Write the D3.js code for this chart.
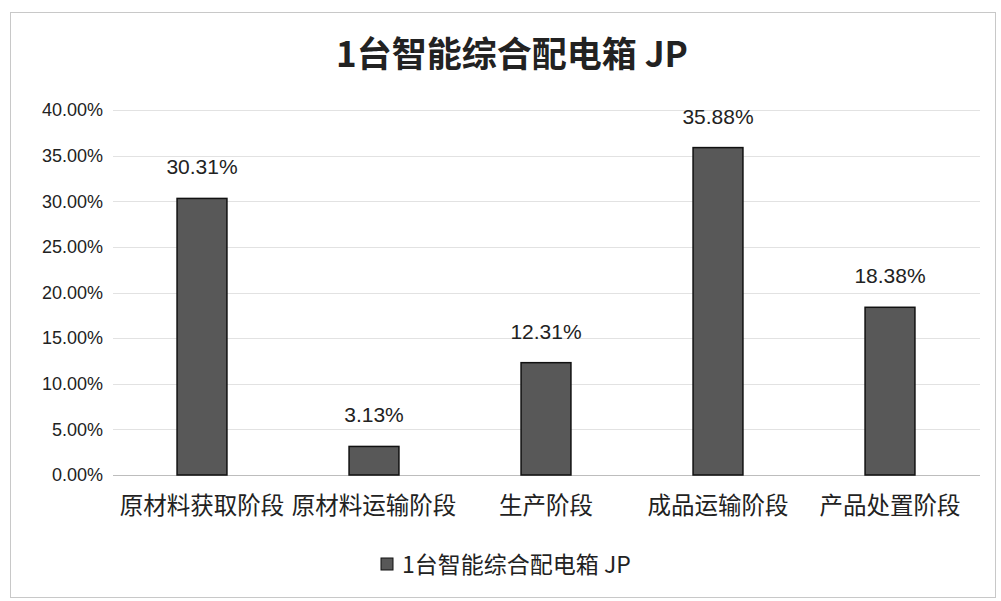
<!DOCTYPE html>
<html>
<head>
<meta charset="utf-8">
<script src="https://cdn.jsdelivr.net/npm/d3@7/dist/d3.min.js"></script>
<style>
	body { margin: 0; background: #fff; }
	text { fill: #222; }
</style>
</head>
<body>
<svg id="svg"></svg>
<script>
const W = 1001, H = 601
const cjk = '"Noto Sans CJK SC", "Noto Sans", sans-serif'
const latin = '"Liberation Sans", Arial, sans-serif'

// data
const title = '1台智能综合配电箱 JP'
const categories = ['原材料获取阶段', '原材料运输阶段', '生产阶段', '成品运输阶段', '产品处置阶段']
const values = [0.3031, 0.0313, 0.1231, 0.3588, 0.1838]
const yTicks = [0, 0.05, 0.10, 0.15, 0.20, 0.25, 0.30, 0.35, 0.40]

const plot = {left: 116, right: 976, top: 110, bottom: 475}

const svg = d3.select('#svg')
	.attr('width', W)
	.attr('height', H)

// chart frame
svg.append('rect')
	.attr('x', 10.5).attr('y', 12.5)
	.attr('width', 985).attr('height', 585)
	.attr('fill', '#fff')
	.attr('stroke', '#c8c8c8')

const x = d3.scaleBand()
	.domain(categories)
	.range([plot.left, plot.right])
	.paddingInner(0.71)
	.paddingOuter(0.355)

const y = d3.scaleLinear()
	.domain([0, 0.40])
	.range([plot.bottom, plot.top])

const fmt = d3.format('.2%')

// gridlines
svg.append('g')
	.selectAll('line')
	.data(yTicks)
	.join('line')
	.attr('x1', plot.left - 3)
	.attr('x2', plot.right + 4)
	.attr('y1', d => Math.round(y(d)) + 0.5)
	.attr('y2', d => Math.round(y(d)) + 0.5)
	.attr('stroke', d => d === 0 ? '#bdbdbd' : '#e2e2e2')
	.attr('stroke-width', 1.2)

// y axis labels
const yAxis = svg.append('g')
	.attr('transform', `translate(${plot.left - 13},0)`)
	.call(d3.axisLeft(y).tickValues(yTicks).tickFormat(fmt).tickSize(0).tickPadding(0))
yAxis.select('.domain').remove()
yAxis.selectAll('text')
	.attr('font-family', latin)
	.attr('font-size', 18)
	.attr('fill', '#222')

// bars
svg.append('g')
	.selectAll('rect')
	.data(values)
	.join('rect')
	.attr('x', (d, i) => x(categories[i]))
	.attr('y', d => y(d))
	.attr('width', x.bandwidth())
	.attr('height', d => y(0) - y(d))
	.attr('fill', '#585858')
	.attr('stroke', '#111')
	.attr('stroke-width', 1.5)

// data labels
svg.append('g')
	.selectAll('text')
	.data(values)
	.join('text')
	.attr('x', (d, i) => x(categories[i]) + x.bandwidth() / 2)
	.attr('y', d => y(d) - 24)
	.attr('text-anchor', 'middle')
	.attr('font-family', latin)
	.attr('font-size', 21)
	.text(d => fmt(d))

// category labels
const xAxis = svg.append('g')
	.attr('transform', `translate(0,${plot.bottom + 22})`)
	.call(d3.axisBottom(x).tickSize(0).tickPadding(0))
xAxis.select('.domain').remove()
xAxis.selectAll('text')
	.attr('font-family', cjk)
	.attr('font-size', 23.5)
	.attr('fill', '#222')

// title
svg.append('text')
	.attr('x', 512)
	.attr('y', 67)
	.attr('text-anchor', 'middle')
	.attr('font-family', cjk)
	.attr('font-size', 35)
	.attr('font-weight', 'bold')
	.text(title)

// legend
const lg = svg.append('g').attr('transform', 'translate(381,558)')
lg.append('rect')
	.attr('width', 12).attr('height', 12)
	.attr('fill', '#585858')
	.attr('stroke', '#111')
lg.append('text')
	.attr('x', 21)
	.attr('y', 15)
	.attr('font-family', cjk)
	.attr('font-size', 23)
	.text(title)
</script>
</body>
</html>
